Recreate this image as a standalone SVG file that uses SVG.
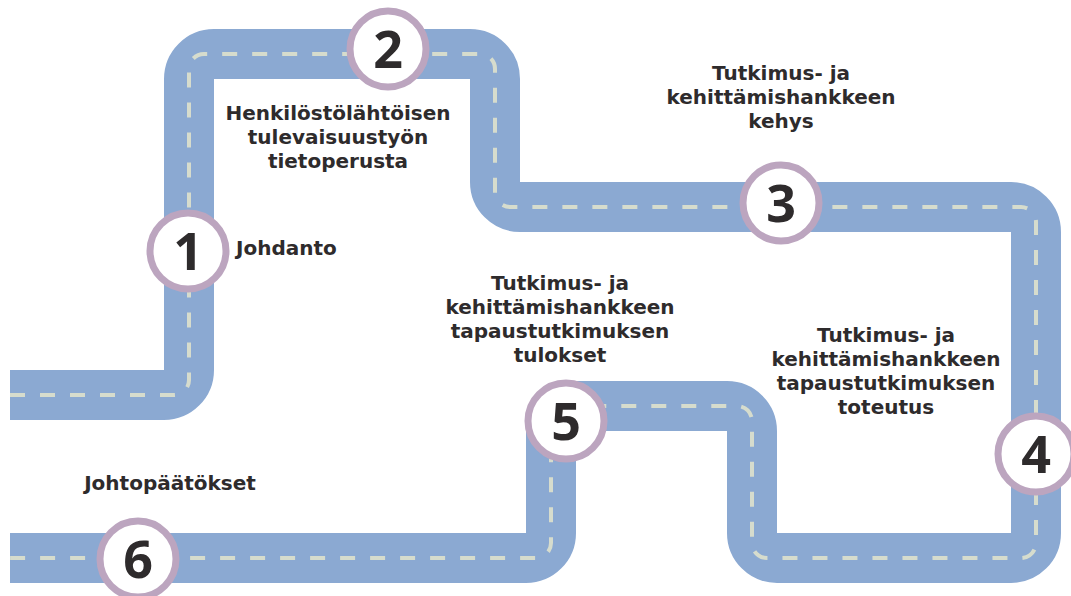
<svg xmlns="http://www.w3.org/2000/svg" width="1071" height="596" viewBox="0 0 1071 596">
  <style>
    .road { fill: none; stroke: #8ba9d2; stroke-width: 50; stroke-linecap: butt; }
    .lane { fill: none; stroke: #d6dccd; stroke-width: 4; stroke-dasharray: 15 15; stroke-linecap: butt; }
    .stop { fill: #ffffff; stroke: #bca5bf; stroke-width: 7; }
    .num { font-family: "Open Sans", Roboto, sans-serif; font-weight: 700; font-size: 52px; fill: #2e2b2c; text-anchor: middle; }
    .lbl { font-family: "DejaVu Sans", "Liberation Sans", sans-serif; font-weight: 700; font-size: 20px; fill: #2e2b2c; text-anchor: middle; }
    .left { text-anchor: start; }
  </style>

  <!-- road and its centre line -->
  <g id="connectors">
    <path class="road" d="M10,395 H164 A25,25 0 0 0 189,370 V79 A25,25 0 0 1 214,54 H470 A25,25 0 0 1 495,79 V182 A25,25 0 0 0 520,207 H1011 A25,25 0 0 1 1036,232 V533 A25,25 0 0 1 1011,558 H777 A25,25 0 0 1 752,533 V431 A25,25 0 0 0 727,406 H576 A25,25 0 0 0 551,431 V533 A25,25 0 0 1 526,558 H10"/>
    <path class="lane" d="M10,395 H174 A15,15 0 0 0 189,380 V69 A15,15 0 0 1 204,54 H480 A15,15 0 0 1 495,69 V192 A15,15 0 0 0 510,207 H1021 A15,15 0 0 1 1036,222 V543 A15,15 0 0 1 1021,558 H767 A15,15 0 0 1 752,543 V421 A15,15 0 0 0 737,406 H566 A15,15 0 0 0 551,421 V543 A15,15 0 0 1 536,558 H10"/>
  </g>

  <g id="stop-1">
    <circle class="stop" cx="188" cy="251" r="38"/>
    <text class="num" x="188" y="270">1</text>
    <text class="lbl left" x="236" y="255">Johdanto</text>
  </g>

  <g id="stop-2">
    <circle class="stop" cx="388" cy="49" r="38"/>
    <text class="num" x="388" y="68">2</text>
    <text class="lbl" x="338" y="120">Henkilöstölähtöisen</text>
    <text class="lbl" x="338" y="144">tulevaisuustyön</text>
    <text class="lbl" x="338" y="168">tietoperusta</text>
  </g>

  <g id="stop-3">
    <circle class="stop" cx="781" cy="203" r="38"/>
    <text class="num" x="781" y="222">3</text>
    <text class="lbl" x="781" y="80">Tutkimus- ja</text>
    <text class="lbl" x="781" y="104">kehittämishankkeen</text>
    <text class="lbl" x="781" y="128">kehys</text>
  </g>

  <g id="stop-4">
    <circle class="stop" cx="1036" cy="454" r="38"/>
    <text class="num" x="1036" y="473">4</text>
    <text class="lbl" x="886" y="342">Tutkimus- ja</text>
    <text class="lbl" x="886" y="366">kehittämishankkeen</text>
    <text class="lbl" x="886" y="390">tapaustutkimuksen</text>
    <text class="lbl" x="886" y="414">toteutus</text>
  </g>

  <g id="stop-5">
    <circle class="stop" cx="566" cy="421" r="38"/>
    <text class="num" x="566" y="440">5</text>
    <text class="lbl" x="560" y="290">Tutkimus- ja</text>
    <text class="lbl" x="560" y="314">kehittämishankkeen</text>
    <text class="lbl" x="560" y="338">tapaustutkimuksen</text>
    <text class="lbl" x="560" y="362">tulokset</text>
  </g>

  <g id="stop-6">
    <circle class="stop" cx="138" cy="559" r="38"/>
    <text class="num" x="138" y="578">6</text>
    <text class="lbl" x="170" y="490">Johtopäätökset</text>
  </g>
</svg>
